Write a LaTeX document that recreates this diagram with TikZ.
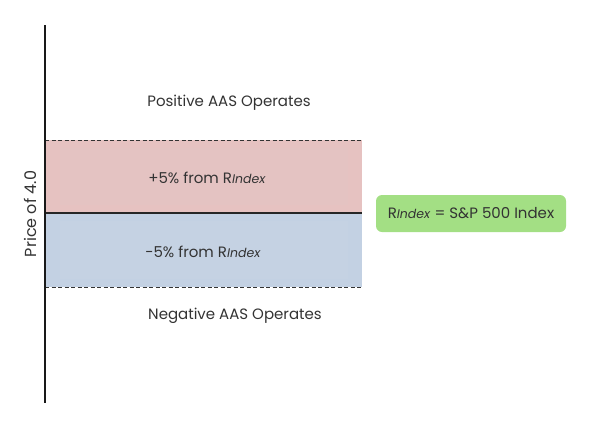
\documentclass[tikz,border=0pt]{standalone}
\usepackage{fontspec}
\setmainfont{Poppins}
\definecolor{redband}{HTML}{E6C2C1}
\definecolor{redinner}{HTML}{E4C3C2}
\definecolor{blueband}{HTML}{C3D1E3}
\definecolor{blueinner}{HTML}{C5D2E3}
\definecolor{greenbox}{HTML}{A3DF84}
\definecolor{txt}{HTML}{333333}
\newcommand{\idx}{\textit{\fontsize{12.5}{14}\selectfont Index}}
\begin{document}
\begin{tikzpicture}[x=1pt,y=-1pt,
  lbl/.style={text=txt,font=\fontsize{15}{18}\selectfont,inner sep=0pt},
  dline/.style={draw=black!80,line width=1pt,dash pattern=on 4pt off 2.5pt}]
\useasboundingbox (0,0) rectangle (592,421);
% bands
\fill[redband] (45,140) rectangle (362,213);
\fill[blueband] (45,213) rectangle (362,287);
\fill[redinner] (60,148) rectangle (348,205);
\fill[blueinner] (60,221) rectangle (348,279);
% lines
\draw[dline] (45,140) -- (362,140);
\draw[dline] (45,287) -- (362,287);
\draw[black!85,line width=1.3pt] (45,213) -- (362,213);
\draw[black!90,line width=1.3pt] (45,25) -- (45,403);
% texts
\node[lbl] (pos) at (229,103) {Positive AAS Operates};
\node[lbl] (neg) at (235,316) {Negative AAS Operates};
\node[lbl] (plus) at (207,178) {+5\% from R\idx};
\node[lbl] (minus) at (203,252) {-5\% from R\idx};
\node[lbl,rotate=90,font=\fontsize{16}{18}\selectfont] (price) at (30,214) {Price of 4.0};
\node[fill=greenbox,rounded corners=6pt,minimum width=190pt,minimum height=37pt,inner sep=0pt,text=txt,font=\fontsize{15}{18}\selectfont] (eq) at (471,213.5) {R\idx{} = S\&P 500 Index};
\end{tikzpicture}
\end{document}
